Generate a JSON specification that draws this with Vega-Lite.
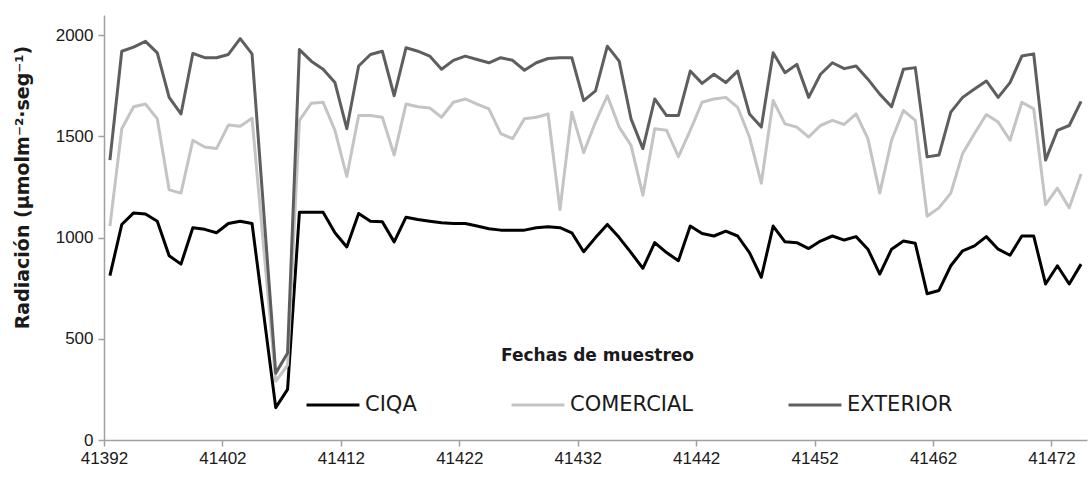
{
  "$schema": "https://vega.github.io/schema/vega-lite/v6.json",
  "width": 983,
  "height": 425,
  "autosize": {"type": "none"},
  "padding": {"left": 104, "top": 15, "right": 4, "bottom": 37},
  "background": "white",
  "config": {
    "view": {"stroke": null},
    "font": "Liberation Sans"
  },
  "data": {
    "values": [
      {"fecha": 41392, "CIQA": 812, "COMERCIAL": 1057, "EXTERIOR": 1383},
      {"fecha": 41393, "CIQA": 1065, "COMERCIAL": 1538, "EXTERIOR": 1921},
      {"fecha": 41394, "CIQA": 1122, "COMERCIAL": 1647, "EXTERIOR": 1941},
      {"fecha": 41395, "CIQA": 1117, "COMERCIAL": 1660, "EXTERIOR": 1970},
      {"fecha": 41396, "CIQA": 1081, "COMERCIAL": 1587, "EXTERIOR": 1913},
      {"fecha": 41397, "CIQA": 910, "COMERCIAL": 1236, "EXTERIOR": 1693},
      {"fecha": 41398, "CIQA": 869, "COMERCIAL": 1220, "EXTERIOR": 1611},
      {"fecha": 41399, "CIQA": 1049, "COMERCIAL": 1481, "EXTERIOR": 1910},
      {"fecha": 41400, "CIQA": 1041, "COMERCIAL": 1448, "EXTERIOR": 1889},
      {"fecha": 41401, "CIQA": 1024, "COMERCIAL": 1440, "EXTERIOR": 1889},
      {"fecha": 41402, "CIQA": 1070, "COMERCIAL": 1556, "EXTERIOR": 1905},
      {"fecha": 41403, "CIQA": 1081, "COMERCIAL": 1550, "EXTERIOR": 1983},
      {"fecha": 41404, "CIQA": 1070, "COMERCIAL": 1590, "EXTERIOR": 1908},
      {"fecha": 41406, "CIQA": 160, "COMERCIAL": 290, "EXTERIOR": 330},
      {"fecha": 41407, "CIQA": 250, "COMERCIAL": 370, "EXTERIOR": 430},
      {"fecha": 41408, "CIQA": 1125, "COMERCIAL": 1579, "EXTERIOR": 1929},
      {"fecha": 41409, "CIQA": 1125, "COMERCIAL": 1664, "EXTERIOR": 1872},
      {"fecha": 41410, "CIQA": 1125, "COMERCIAL": 1669, "EXTERIOR": 1832},
      {"fecha": 41411, "CIQA": 1024, "COMERCIAL": 1530, "EXTERIOR": 1766},
      {"fecha": 41412, "CIQA": 954, "COMERCIAL": 1302, "EXTERIOR": 1538},
      {"fecha": 41413, "CIQA": 1119, "COMERCIAL": 1603, "EXTERIOR": 1848},
      {"fecha": 41414, "CIQA": 1081, "COMERCIAL": 1603, "EXTERIOR": 1905},
      {"fecha": 41415, "CIQA": 1078, "COMERCIAL": 1595, "EXTERIOR": 1921},
      {"fecha": 41416, "CIQA": 979, "COMERCIAL": 1408, "EXTERIOR": 1701},
      {"fecha": 41417, "CIQA": 1101, "COMERCIAL": 1660, "EXTERIOR": 1938},
      {"fecha": 41418, "CIQA": 1090, "COMERCIAL": 1647, "EXTERIOR": 1921},
      {"fecha": 41419, "CIQA": 1081, "COMERCIAL": 1641, "EXTERIOR": 1897},
      {"fecha": 41420, "CIQA": 1073, "COMERCIAL": 1595, "EXTERIOR": 1832},
      {"fecha": 41421, "CIQA": 1070, "COMERCIAL": 1669, "EXTERIOR": 1876},
      {"fecha": 41422, "CIQA": 1070, "COMERCIAL": 1685, "EXTERIOR": 1897},
      {"fecha": 41423, "CIQA": 1057, "COMERCIAL": 1660, "EXTERIOR": 1880},
      {"fecha": 41424, "CIQA": 1044, "COMERCIAL": 1636, "EXTERIOR": 1864},
      {"fecha": 41425, "CIQA": 1037, "COMERCIAL": 1514, "EXTERIOR": 1889},
      {"fecha": 41426, "CIQA": 1037, "COMERCIAL": 1489, "EXTERIOR": 1876},
      {"fecha": 41427, "CIQA": 1037, "COMERCIAL": 1587, "EXTERIOR": 1827},
      {"fecha": 41428, "CIQA": 1049, "COMERCIAL": 1595, "EXTERIOR": 1864},
      {"fecha": 41429, "CIQA": 1054, "COMERCIAL": 1611, "EXTERIOR": 1885},
      {"fecha": 41430, "CIQA": 1049, "COMERCIAL": 1138, "EXTERIOR": 1889},
      {"fecha": 41431, "CIQA": 1024, "COMERCIAL": 1620, "EXTERIOR": 1889},
      {"fecha": 41432, "CIQA": 930, "COMERCIAL": 1420, "EXTERIOR": 1677},
      {"fecha": 41433, "CIQA": 1000, "COMERCIAL": 1571, "EXTERIOR": 1725},
      {"fecha": 41434, "CIQA": 1065, "COMERCIAL": 1701, "EXTERIOR": 1946},
      {"fecha": 41435, "CIQA": 1000, "COMERCIAL": 1546, "EXTERIOR": 1872},
      {"fecha": 41436, "CIQA": 926, "COMERCIAL": 1456, "EXTERIOR": 1587},
      {"fecha": 41437, "CIQA": 848, "COMERCIAL": 1210, "EXTERIOR": 1440},
      {"fecha": 41438, "CIQA": 975, "COMERCIAL": 1538, "EXTERIOR": 1685},
      {"fecha": 41439, "CIQA": 926, "COMERCIAL": 1530, "EXTERIOR": 1603},
      {"fecha": 41440, "CIQA": 886, "COMERCIAL": 1400, "EXTERIOR": 1603},
      {"fecha": 41441, "CIQA": 1057, "COMERCIAL": 1530, "EXTERIOR": 1823},
      {"fecha": 41442, "CIQA": 1020, "COMERCIAL": 1669, "EXTERIOR": 1762},
      {"fecha": 41443, "CIQA": 1008, "COMERCIAL": 1685, "EXTERIOR": 1807},
      {"fecha": 41444, "CIQA": 1032, "COMERCIAL": 1693, "EXTERIOR": 1766},
      {"fecha": 41445, "CIQA": 1008, "COMERCIAL": 1644, "EXTERIOR": 1823},
      {"fecha": 41446, "CIQA": 926, "COMERCIAL": 1497, "EXTERIOR": 1611},
      {"fecha": 41447, "CIQA": 804, "COMERCIAL": 1269, "EXTERIOR": 1546},
      {"fecha": 41448, "CIQA": 1057, "COMERCIAL": 1677, "EXTERIOR": 1913},
      {"fecha": 41449, "CIQA": 979, "COMERCIAL": 1562, "EXTERIOR": 1815},
      {"fecha": 41450, "CIQA": 975, "COMERCIAL": 1546, "EXTERIOR": 1856},
      {"fecha": 41451, "CIQA": 946, "COMERCIAL": 1497, "EXTERIOR": 1693},
      {"fecha": 41452, "CIQA": 983, "COMERCIAL": 1554, "EXTERIOR": 1807},
      {"fecha": 41453, "CIQA": 1008, "COMERCIAL": 1579, "EXTERIOR": 1864},
      {"fecha": 41454, "CIQA": 988, "COMERCIAL": 1559, "EXTERIOR": 1835},
      {"fecha": 41455, "CIQA": 1005, "COMERCIAL": 1611, "EXTERIOR": 1848},
      {"fecha": 41456, "CIQA": 943, "COMERCIAL": 1489, "EXTERIOR": 1783},
      {"fecha": 41457, "CIQA": 820, "COMERCIAL": 1220, "EXTERIOR": 1709},
      {"fecha": 41458, "CIQA": 943, "COMERCIAL": 1481, "EXTERIOR": 1647},
      {"fecha": 41459, "CIQA": 983, "COMERCIAL": 1628, "EXTERIOR": 1832},
      {"fecha": 41460, "CIQA": 972, "COMERCIAL": 1579, "EXTERIOR": 1840},
      {"fecha": 41461, "CIQA": 723, "COMERCIAL": 1106, "EXTERIOR": 1399},
      {"fecha": 41462, "CIQA": 739, "COMERCIAL": 1147, "EXTERIOR": 1408},
      {"fecha": 41463, "CIQA": 861, "COMERCIAL": 1220, "EXTERIOR": 1620},
      {"fecha": 41464, "CIQA": 935, "COMERCIAL": 1416, "EXTERIOR": 1693},
      {"fecha": 41465, "CIQA": 959, "COMERCIAL": 1514, "EXTERIOR": 1734},
      {"fecha": 41466, "CIQA": 1005, "COMERCIAL": 1608, "EXTERIOR": 1774},
      {"fecha": 41467, "CIQA": 943, "COMERCIAL": 1571, "EXTERIOR": 1693},
      {"fecha": 41468, "CIQA": 913, "COMERCIAL": 1481, "EXTERIOR": 1766},
      {"fecha": 41469, "CIQA": 1008, "COMERCIAL": 1669, "EXTERIOR": 1897},
      {"fecha": 41470, "CIQA": 1008, "COMERCIAL": 1636, "EXTERIOR": 1908},
      {"fecha": 41471, "CIQA": 771, "COMERCIAL": 1163, "EXTERIOR": 1383},
      {"fecha": 41472, "CIQA": 861, "COMERCIAL": 1244, "EXTERIOR": 1530},
      {"fecha": 41473, "CIQA": 771, "COMERCIAL": 1147, "EXTERIOR": 1554},
      {"fecha": 41474, "CIQA": 869, "COMERCIAL": 1315, "EXTERIOR": 1673}
    ]
  },
  "transform": [
    {"fold": ["CIQA", "COMERCIAL", "EXTERIOR"], "as": ["serie", "valor"]}
  ],
  "mark": {"type": "line", "strokeWidth": 3, "strokeJoin": "round", "clip": false},
  "encoding": {
    "x": {
      "field": "fecha",
      "type": "quantitative",
      "scale": {"domain": [41391.5, 41474.5], "nice": false, "zero": false},
      "axis": {
        "values": [41391.5, 41401.5, 41411.5, 41421.5, 41431.5, 41441.5, 41451.5, 41461.5, 41471.5],
        "labelExpr": "format(datum.value + 0.5, 'd')",
        "grid": false,
        "domainColor": "#a0a0a0",
        "domainWidth": 1.5,
        "tickColor": "#a0a0a0",
        "tickWidth": 1.5,
        "tickSize": 6,
        "labelFontSize": 17,
        "labelColor": "#1a1a1a",
        "labelPadding": 4,
        "labelFlush": false,
        "title": "Fechas de muestreo",
        "titleFont": "DejaVu Sans",
        "titleFontSize": 17,
        "titleFontWeight": "bold",
        "titleColor": "#1a1a1a",
        "titleX": 493,
        "titleY": -85,
        "titleBaseline": "middle",
        "titleAlign": "center"
      }
    },
    "y": {
      "field": "valor",
      "type": "quantitative",
      "scale": {"domain": [0, 2100], "nice": false},
      "axis": {
        "values": [0, 500, 1000, 1500, 2000],
        "format": "d",
        "grid": false,
        "domainColor": "#a0a0a0",
        "domainWidth": 1.5,
        "tickColor": "#a0a0a0",
        "tickWidth": 1.5,
        "tickSize": 6,
        "labelFontSize": 17,
        "labelColor": "#1a1a1a",
        "labelPadding": 5,
        "title": "Radiación (µmolm⁻²·seg⁻¹)",
        "titleFont": "DejaVu Sans",
        "titleFontSize": 19,
        "titleFontWeight": "bold",
        "titleColor": "#1a1a1a",
        "titleAngle": 270,
        "titleX": -82,
        "titleY": 172,
        "titleBaseline": "middle",
        "titleAlign": "center"
      }
    },
    "color": {
      "field": "serie",
      "type": "nominal",
      "scale": {"domain": ["CIQA", "COMERCIAL", "EXTERIOR"], "range": ["#000000", "#c4c4c4", "#5e5e5e"]},
      "legend": {
        "title": null,
        "orient": "none",
        "direction": "horizontal",
        "legendX": 201,
        "legendY": 362,
        "symbolType": "stroke",
        "symbolSize": 2800,
        "symbolStrokeWidth": 3,
        "labelFont": "DejaVu Sans",
        "labelFontSize": 21,
        "labelColor": "#1a1a1a",
        "labelOffset": 4,
        "columnPadding": 88,
        "padding": 0
      }
    }
  }
}
